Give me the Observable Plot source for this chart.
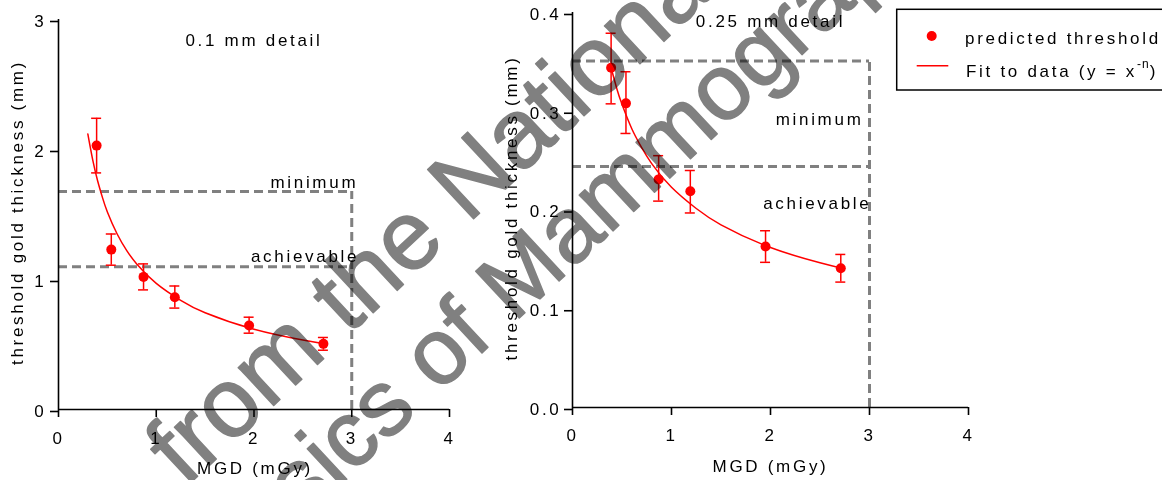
<!DOCTYPE html>
<html><head><meta charset="utf-8">
<script src="https://cdn.jsdelivr.net/npm/d3@7"></script>
<script src="https://cdn.jsdelivr.net/npm/@observablehq/plot@0.6"></script>
<style>
html,body{margin:0;padding:0;background:#fff;overflow:hidden;}
#wrap{position:relative;width:1162px;height:480px;overflow:hidden;background:#fff;font-family:"Liberation Sans",Arial,sans-serif;isolation:isolate;}
#wrap .panel{position:absolute;top:0;}
#legend{position:absolute;left:0;top:0;}
#wm{position:absolute;left:0;top:0;pointer-events:none;mix-blend-mode:multiply;}
</style></head><body><div id="wrap"></div>
<script>
// ---------- data ----------
const mgd = [0.39, 0.54, 0.87, 1.19, 1.95, 2.71];           // MGD (mGy)
// 0.1 mm detail
const thr01   = [2.03, 1.23, 1.02, 0.864, 0.646, 0.505];
const thr01Lo = [1.82, 1.11, 0.92, 0.78, 0.587, 0.456];
const thr01Hi = [2.24, 1.35, 1.12, 0.95, 0.71, 0.554];
const fit01X  = [0.30, 0.35, 0.40, 0.45, 0.50, 0.60, 0.70, 0.80, 1.00, 1.25, 1.50, 2.00, 2.50, 2.72];
const fit01Y  = [2.12, 1.92, 1.76, 1.63, 1.52, 1.35, 1.22, 1.12, 0.97, 0.84, 0.744, 0.617, 0.534, 0.505];
const min01 = 1.677, ach01 = 1.098;
// 0.25 mm detail
const thr25   = [0.344, 0.308, 0.231, 0.219, 0.163, 0.141];
const thr25Lo = [0.3075, 0.2775, 0.209, 0.197, 0.147, 0.127];
const thr25Hi = [0.379, 0.340, 0.255, 0.240, 0.179, 0.155];
const fit25X  = [0.39, 0.45, 0.50, 0.60, 0.70, 0.80, 1.00, 1.25, 1.50, 2.00, 2.50, 2.72];
const fit25Y  = [0.344, 0.322, 0.307, 0.282, 0.263, 0.247, 0.223, 0.2015, 0.185, 0.162, 0.1466, 0.141];
const min25 = 0.351, ach25 = 0.244;
// ticks & texts
const xTicks = [0, 1, 2, 3, 4];
const yTicks01 = [0, 1, 2, 3];
const yTicks25 = [0, 0.1, 0.2, 0.3, 0.4];
const titles = ["0.1 mm detail", "0.25 mm detail"];
const bandLabels = ["minimum", "achievable"];
const xLabel = "MGD (mGy)";
const yLabel = "threshold gold thickness (mm)";
const legendLabels = ["predicted threshold", "Fit to data (y = x", "-n", ")"];
const watermark = ["from the National Coordinating Centre for the", "Physics of Mammography"];

// ---------- drawing ----------
const RED = "#ff0000", GREY = "#808080";
const FONT = "'Liberation Sans', Arial, sans-serif";
const LS = "2.7px";

function panel(o) {
  const pts = mgd.map((x, i) => ({x, y: o.y[i], lo: o.lo[i], hi: o.hi[i]}));
  const fit = o.fx.map((x, i) => ({x, y: o.fy[i]}));
  const cap = 5 / ((o.width - o.ml - o.mr) / 4);
  const dash = {stroke: GREY, strokeWidth: 3, strokeDasharray: "9,5"};
  return Plot.plot({
    width: o.width, height: 480,
    marginLeft: o.ml, marginRight: o.mr, marginTop: o.mt, marginBottom: o.mb,
    x: {domain: [0, 4]},
    y: {domain: o.yDomain},
    style: {fontFamily: FONT, fontSize: "17px", letterSpacing: LS, color: "#000", background: "#fff", overflow: "visible"},
    marks: [
      Plot.ruleY([o.min, o.ach], {x1: 0, x2: 3, ...dash}),
      Plot.ruleX([3], {y1: 0, y2: o.min, ...dash}),
      Plot.ruleX([0], {stroke: "#000", strokeWidth: 1.6}),
      Plot.ruleY([0], {stroke: "#000", strokeWidth: 1.6}),
      Plot.axisX(xTicks, {tickSize: 8, tickPadding: o.xpad, strokeWidth: 1.6, label: null, tickFormat: d => String(d), fontSize: 17}),
      Plot.axisY(o.yTicks, {tickSize: 8, tickPadding: o.ypad, strokeWidth: 1.6, label: null, tickFormat: o.yFmt, dy: 2, fontSize: 17}),
      Plot.line(fit, {x: "x", y: "y", stroke: RED, strokeWidth: 1.5, curve: "natural"}),
      Plot.ruleX(pts, {x: "x", y1: "lo", y2: "hi", stroke: RED, strokeWidth: 1.5}),
      Plot.ruleY(pts, {y: "lo", x1: d => d.x - cap, x2: d => d.x + cap, stroke: RED, strokeWidth: 1.5}),
      Plot.ruleY(pts, {y: "hi", x1: d => d.x - cap, x2: d => d.x + cap, stroke: RED, strokeWidth: 1.5}),
      Plot.dot(pts, {x: "x", y: "y", r: 5, fill: RED}),
      Plot.text([o.title], {x: 2, frameAnchor: "top", lineAnchor: "middle", textAnchor: "middle", dy: o.titleDy, fill: "#000"}),
      Plot.text([bandLabels[0]], {x: 3, y: o.min, textAnchor: "end", lineAnchor: "middle", dx: o.minDx, dy: o.minDy, fill: "#000"}),
      Plot.text([bandLabels[1]], {x: 3, y: o.ach, textAnchor: "end", lineAnchor: "middle", dx: o.achDx, dy: o.achDy, fill: "#000"}),
      Plot.text([xLabel], {frameAnchor: "bottom", lineAnchor: "middle", textAnchor: "middle", dy: 58.9, dx: o.xlDx, fill: "#000"}),
      Plot.text([yLabel], {frameAnchor: "left", rotate: -90, textAnchor: "middle", lineAnchor: "middle", dx: o.ylDx, dy: -2, fill: "#000"})
    ]
  });
}

const wrap = document.getElementById("wrap");

const left = panel({
  width: 480, ml: 58, mr: 31, mt: 19, mb: 71, yDomain: [0, 3], yTicks: yTicks01, yFmt: d => String(d),
  y: thr01, lo: thr01Lo, hi: thr01Hi, fx: fit01X, fy: fit01Y, min: min01, ach: ach01,
  title: titles[0], titleDy: 20.6, minDx: 6.5, minDy: -9.4, achDx: 7.5, achDy: -10,
  xpad: 14, ypad: 4, xlDx: 1, ylDx: -40.8
});
left.classList.add("panel"); left.style.left = "0px";
wrap.appendChild(left);

const right = panel({
  width: 490, ml: 92, mr: 2, mt: 12, mb: 73, yDomain: [0, 0.4], yTicks: yTicks25, yFmt: d3.format(".1f"),
  y: thr25, lo: thr25Lo, hi: thr25Hi, fx: fit25X, fy: fit25Y, min: min25, ach: ach25,
  title: titles[1], titleDy: 9.3, minDx: -6, minDy: 58.2, achDx: 2, achDy: 37.2,
  xpad: 13, ypad: 3, xlDx: 0, ylDx: -61
});
right.classList.add("panel"); right.style.left = "480px";
wrap.appendChild(right);

// legend
const lg = d3.select(wrap).append("svg").attr("id", "legend").attr("width", 1162).attr("height", 480)
  .style("font-family", FONT).style("font-size", "17px").style("letter-spacing", LS);
lg.append("rect").attr("x", 896.7).attr("y", 9.3).attr("width", 300).attr("height", 80.7)
  .attr("fill", "#fff").attr("stroke", "#000").attr("stroke-width", 1.5);
lg.append("circle").attr("cx", 931.7).attr("cy", 36).attr("r", 5).attr("fill", RED);
lg.append("text").attr("x", 965).attr("y", 44).text(legendLabels[0]);
lg.append("line").attr("x1", 916.7).attr("x2", 948.3).attr("y1", 65.7).attr("y2", 65.7).attr("stroke", RED).attr("stroke-width", 1.5);
const t2 = lg.append("text").attr("x", 966).attr("y", 77.3);
t2.append("tspan").text(legendLabels[1]);
t2.append("tspan").attr("dy", -9).style("font-size", "12px").style("letter-spacing", "1px").text(legendLabels[2]);
t2.append("tspan").attr("dy", 9).text(legendLabels[3]);

// watermark
const wm = d3.select(wrap).append("svg").attr("id", "wm").attr("width", 1162).attr("height", 480)
  .style("font-family", FONT);
wm.append("text").attr("transform", "translate(185,488) rotate(-43)").style("font-size", "98px")
  .attr("fill", GREY).attr("stroke", GREY).attr("stroke-width", 1.5).attr("stroke-linejoin", "round").text(watermark[0]);
wm.append("text").attr("transform", "translate(185,630) rotate(-43)").style("font-size", "93px")
  .attr("fill", GREY).attr("stroke", GREY).attr("stroke-width", 1.5).attr("stroke-linejoin", "round").text(watermark[1]);
</script></body></html>
